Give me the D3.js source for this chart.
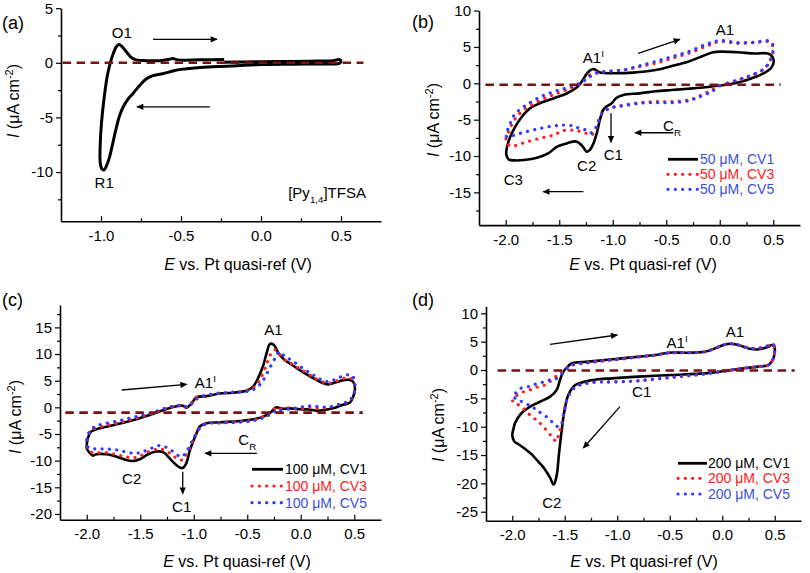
<!DOCTYPE html>
<html><head><meta charset="utf-8">
<script src="https://cdn.jsdelivr.net/npm/d3@7"></script>
<style>
body{margin:0;background:#fff}
svg{display:block}
text{font-family:"Liberation Sans",Arial,Helvetica,sans-serif;fill:#000}
</style></head>
<body><svg id="chart" width="810" height="573"></svg>
<script>
// ---------------- DATA (E in V, I in µA cm^-2) ----------------
const aCV1 = [[-0.23,0.05],[-0.1,0.08],[0.0,0.1],[0.15,0.12],[0.3,0.15],[0.45,0.2],[0.49,0.3],[0.5,0.15],[0.49,-0.05],[0.4,-0.1],[0.2,-0.12],[0.0,-0.15],[-0.18,-0.3],[-0.38,-0.42],[-0.5,-0.6],[-0.55,-0.75],[-0.615,-1.0],[-0.68,-1.2],[-0.72,-1.5],[-0.76,-2.1],[-0.8,-2.8],[-0.83,-3.3],[-0.86,-4.0],[-0.885,-4.9],[-0.91,-6.3],[-0.93,-7.6],[-0.948,-8.7],[-0.965,-9.4],[-0.98,-9.8],[-0.995,-9.7],[-1.005,-9.1],[-1.005,-7.5],[-0.997,-5.5],[-0.982,-3.4],[-0.962,-1.3],[-0.942,0.0],[-0.922,0.9],[-0.905,1.45],[-0.888,1.67],[-0.87,1.5],[-0.844,1.06],[-0.812,0.5],[-0.78,0.27],[-0.72,0.2],[-0.635,0.2],[-0.573,0.33],[-0.552,0.4],[-0.52,0.27],[-0.385,0.27],[-0.23,0.3]];

const bCV1 = [[0.0,-0.3],[-0.135,-0.55],[-0.3,-0.75],[-0.45,-0.92],[-0.6,-1.1],[-0.75,-1.38],[-0.9,-1.6],[-0.97,-2.06],[-1.01,-2.75],[-1.06,-3.2],[-1.09,-3.67],[-1.12,-5.0],[-1.15,-6.9],[-1.18,-8.26],[-1.215,-9.17],[-1.245,-9.4],[-1.28,-8.7],[-1.34,-8.0],[-1.43,-8.26],[-1.52,-8.7],[-1.6,-9.6],[-1.7,-10.2],[-1.83,-10.55],[-1.92,-10.6],[-1.97,-10.5],[-1.995,-9.8],[-1.97,-7.8],[-1.92,-6.2],[-1.86,-4.8],[-1.77,-3.4],[-1.68,-2.75],[-1.55,-2.06],[-1.43,-1.4],[-1.335,-0.55],[-1.29,0.23],[-1.245,1.28],[-1.215,1.74],[-1.18,1.97],[-1.15,1.74],[-1.12,1.5],[-1.0,1.38],[-0.81,1.47],[-0.6,1.83],[-0.44,2.4],[-0.29,3.0],[-0.185,3.6],[-0.06,4.26],[0.015,4.36],[0.17,4.27],[0.33,4.1],[0.45,4.1],[0.49,3.7],[0.505,3.0],[0.48,2.1],[0.4,1.3],[0.3,0.7],[0.17,0.1],[0.046,-0.23],[0.0,-0.3]];
const bCV3 = [[0.0,-0.3],[-0.077,-0.92],[-0.2,-1.83],[-0.29,-2.3],[-0.446,-2.5],[-0.6,-2.5],[-0.75,-2.66],[-0.9,-3.0],[-1.0,-3.3],[-1.06,-3.67],[-1.11,-4.36],[-1.14,-5.5],[-1.17,-6.65],[-1.2,-7.1],[-1.245,-6.9],[-1.34,-6.5],[-1.46,-6.5],[-1.55,-7.1],[-1.68,-7.57],[-1.83,-8.17],[-1.92,-8.6],[-1.97,-8.5],[-2.0,-8.0],[-1.98,-6.9],[-1.92,-5.05],[-1.83,-3.67],[-1.67,-2.3],[-1.52,-1.38],[-1.37,-0.55],[-1.28,0.23],[-1.215,1.15],[-1.15,1.5],[-1.06,1.65],[-0.9,1.83],[-0.75,2.3],[-0.6,2.75],[-0.446,3.44],[-0.29,4.13],[-0.135,5.05],[0.0,5.73],[0.17,5.5],[0.33,5.6],[0.45,5.73],[0.49,5.3],[0.5,4.6],[0.48,3.44],[0.42,2.06],[0.29,1.0],[0.17,0.46],[0.015,-0.23]];
const bCV5 = [[0.0,-0.35],[-0.077,-1.15],[-0.2,-1.93],[-0.29,-2.4],[-0.446,-2.66],[-0.6,-2.66],[-0.75,-2.75],[-0.9,-3.1],[-1.0,-3.3],[-1.06,-3.67],[-1.11,-4.36],[-1.14,-5.5],[-1.17,-6.4],[-1.2,-6.8],[-1.23,-6.5],[-1.31,-6.2],[-1.37,-5.87],[-1.46,-5.73],[-1.556,-5.87],[-1.71,-6.3],[-1.87,-6.9],[-1.95,-7.25],[-1.995,-7.3],[-1.985,-6.5],[-1.97,-6.0],[-1.92,-4.36],[-1.83,-3.2],[-1.67,-1.83],[-1.52,-1.0],[-1.37,-0.37],[-1.28,0.23],[-1.215,0.92],[-1.15,1.38],[-1.06,1.6],[-0.9,1.83],[-0.75,2.4],[-0.6,3.0],[-0.446,3.67],[-0.29,4.36],[-0.135,5.3],[0.0,5.87],[0.17,5.6],[0.33,5.65],[0.45,5.87],[0.49,5.5],[0.5,4.8],[0.48,3.44],[0.42,2.06],[0.29,1.1],[0.17,0.46],[0.015,-0.3]];

const cCV1 = [[-0.243,-0.06],[-0.274,-0.81],[-0.35,-1.75],[-0.445,-2.25],[-0.57,-2.56],[-0.757,-2.81],[-0.88,-3.0],[-0.944,-3.6],[-0.975,-4.9],[-1.006,-6.4],[-1.04,-8.3],[-1.07,-10.5],[-1.106,-11.4],[-1.146,-11.1],[-1.21,-9.9],[-1.287,-8.4],[-1.35,-8.3],[-1.427,-8.8],[-1.5,-9.7],[-1.567,-10.06],[-1.63,-9.9],[-1.72,-9.25],[-1.816,-8.8],[-1.91,-8.8],[-1.94,-9.06],[-1.97,-8.6],[-2.0,-7.7],[-2.0,-7.0],[-1.99,-5.8],[-1.96,-4.56],[-1.88,-3.94],[-1.72,-3.19],[-1.57,-2.4],[-1.41,-1.44],[-1.255,-0.31],[-1.16,0.19],[-1.1,0.31],[-1.07,-0.06],[-1.02,0.75],[-0.975,1.88],[-0.88,2.1],[-0.757,2.6],[-0.63,2.75],[-0.51,3.1],[-0.445,3.9],[-0.4,5.44],[-0.35,7.9],[-0.32,10.1],[-0.287,11.9],[-0.25,11.7],[-0.21,10.2],[-0.15,8.9],[-0.07,7.8],[0.02,6.6],[0.115,5.5],[0.19,4.7],[0.255,4.3],[0.33,4.7],[0.396,5.1],[0.458,5.15],[0.49,4.8],[0.507,3.56],[0.49,2.0],[0.46,0.9],[0.38,0.4],[0.3,-0.19],[0.149,-0.63],[0.08,-0.4],[-0.007,-0.37],[-0.1,-0.2],[-0.163,-0.26],[-0.225,0.0],[-0.243,-0.06]];
const cCV3 = [[-0.243,-0.3],[-0.3,-1.2],[-0.37,-1.9],[-0.45,-2.4],[-0.57,-2.7],[-0.757,-2.9],[-0.88,-3.1],[-0.944,-3.9],[-0.99,-5.6],[-1.03,-7.3],[-1.07,-9.0],[-1.11,-9.9],[-1.15,-9.7],[-1.21,-8.8],[-1.29,-7.9],[-1.35,-7.9],[-1.43,-8.4],[-1.5,-9.1],[-1.57,-9.5],[-1.63,-9.3],[-1.72,-8.9],[-1.82,-8.5],[-1.91,-8.5],[-1.96,-8.4],[-1.99,-7.8],[-2.0,-7.2],[-1.99,-5.5],[-1.96,-4.3],[-1.88,-3.7],[-1.72,-3.0],[-1.57,-2.2],[-1.41,-1.3],[-1.255,-0.2],[-1.16,0.25],[-1.1,0.3],[-1.07,0.05],[-1.02,0.9],[-0.975,1.9],[-0.88,2.2],[-0.757,2.7],[-0.63,2.85],[-0.5,3.2],[-0.43,3.9],[-0.38,5.2],[-0.32,8.0],[-0.28,10.0],[-0.24,10.8],[-0.2,10.0],[-0.15,8.9],[-0.07,8.0],[0.02,6.9],[0.115,5.7],[0.19,4.9],[0.255,4.5],[0.33,4.9],[0.396,5.4],[0.458,5.5],[0.49,5.1],[0.507,3.8],[0.49,2.2],[0.45,1.2],[0.36,0.6],[0.27,0.0],[0.18,-0.2],[0.084,0.0],[-0.01,-0.3],[-0.1,-0.1],[-0.196,-0.3],[-0.243,-0.3]];
const cCV5 = [[-0.243,-0.8],[-0.3,-1.5],[-0.37,-2.1],[-0.45,-2.5],[-0.57,-2.8],[-0.757,-2.9],[-0.88,-3.0],[-0.93,-3.6],[-0.98,-5.0],[-1.03,-6.9],[-1.07,-8.4],[-1.11,-9.25],[-1.15,-9.0],[-1.2,-8.2],[-1.27,-7.4],[-1.33,-7.2],[-1.42,-7.9],[-1.5,-8.5],[-1.57,-8.6],[-1.65,-8.3],[-1.75,-7.9],[-1.85,-7.8],[-1.93,-7.8],[-1.98,-7.6],[-2.0,-7.0],[-1.99,-5.2],[-1.95,-4.0],[-1.88,-3.3],[-1.72,-2.6],[-1.57,-1.9],[-1.41,-1.1],[-1.255,-0.1],[-1.16,0.35],[-1.1,0.35],[-1.06,0.1],[-1.0,1.0],[-0.95,1.9],[-0.88,2.3],[-0.757,2.6],[-0.63,2.8],[-0.5,3.0],[-0.42,3.6],[-0.36,4.8],[-0.3,7.0],[-0.24,9.2],[-0.2,10.4],[-0.15,9.6],[-0.07,8.6],[0.02,7.3],[0.115,6.1],[0.19,5.2],[0.255,4.8],[0.33,5.3],[0.396,5.9],[0.458,6.1],[0.49,5.7],[0.507,4.0],[0.49,2.1],[0.44,1.0],[0.36,0.5],[0.27,0.1],[0.18,0.1],[0.084,0.3],[-0.01,0.0],[-0.1,-0.3],[-0.196,-0.6],[-0.243,-0.8]];

const dCV1 = [[0.026,-0.18],[-0.164,-0.59],[-0.482,-0.88],[-0.8,-1.17],[-1.053,-1.47],[-1.18,-1.64],[-1.307,-2.05],[-1.4,-2.64],[-1.466,-4.4],[-1.504,-7.3],[-1.53,-10.8],[-1.555,-14.8],[-1.577,-18.6],[-1.605,-20.2],[-1.64,-19.0],[-1.69,-17.5],[-1.75,-16.2],[-1.82,-14.8],[-1.88,-13.9],[-1.94,-13.1],[-1.98,-12.6],[-2.0,-11.5],[-1.99,-10.5],[-1.974,-9.4],[-1.926,-7.9],[-1.83,-6.47],[-1.736,-5.6],[-1.64,-4.7],[-1.577,-3.5],[-1.545,-1.76],[-1.514,-0.3],[-1.466,0.7],[-1.434,1.17],[-1.275,1.47],[-1.117,1.76],[-0.958,2.05],[-0.8,2.34],[-0.64,2.64],[-0.514,3.05],[-0.323,3.05],[-0.164,3.22],[-0.069,3.81],[0.026,4.5],[0.074,4.63],[0.153,4.4],[0.25,3.81],[0.34,3.63],[0.44,4.1],[0.47,4.4],[0.496,4.1],[0.5,3.22],[0.48,1.76],[0.44,0.88],[0.34,0.59],[0.153,0.18],[0.026,-0.18]];
const dCV3 = [[0.026,-0.18],[-0.164,-0.7],[-0.482,-1.3],[-0.8,-1.9],[-1.053,-2.1],[-1.18,-2.1],[-1.307,-2.4],[-1.4,-3.0],[-1.466,-4.6],[-1.504,-7.0],[-1.53,-9.7],[-1.555,-11.2],[-1.58,-12.6],[-1.625,-11.7],[-1.69,-10.3],[-1.75,-9.1],[-1.815,-8.2],[-1.88,-7.0],[-1.926,-6.3],[-1.97,-5.9],[-1.995,-5.6],[-1.99,-5.0],[-1.91,-4.0],[-1.83,-3.5],[-1.752,-2.94],[-1.672,-2.53],[-1.609,-1.47],[-1.545,-0.59],[-1.5,0.1],[-1.434,0.8],[-1.275,1.3],[-1.117,1.65],[-0.958,1.95],[-0.8,2.3],[-0.64,2.6],[-0.514,3.0],[-0.323,3.05],[-0.164,3.22],[-0.069,3.81],[0.026,4.5],[0.074,4.63],[0.153,4.4],[0.25,3.9],[0.34,3.8],[0.44,4.3],[0.47,4.5],[0.496,4.2],[0.5,3.22],[0.48,1.76],[0.44,0.88],[0.34,0.59],[0.153,0.18],[0.026,-0.18]];
const dCV5 = [[0.026,-0.18],[-0.164,-0.7],[-0.482,-1.3],[-0.8,-1.9],[-1.053,-2.1],[-1.18,-2.1],[-1.307,-2.4],[-1.4,-3.0],[-1.466,-4.6],[-1.504,-7.3],[-1.53,-9.6],[-1.56,-10.0],[-1.593,-9.67],[-1.657,-8.5],[-1.75,-7.3],[-1.815,-6.45],[-1.91,-5.57],[-1.97,-5.0],[-1.995,-4.6],[-1.974,-4.23],[-1.926,-3.29],[-1.847,-2.94],[-1.783,-2.53],[-1.704,-2.12],[-1.64,-1.76],[-1.577,-1.47],[-1.514,-0.47],[-1.466,0.5],[-1.434,0.9],[-1.275,1.3],[-1.117,1.65],[-0.958,1.95],[-0.8,2.3],[-0.64,2.6],[-0.514,3.0],[-0.323,3.05],[-0.164,3.22],[-0.069,3.81],[0.026,4.5],[0.074,4.63],[0.153,4.4],[0.25,3.9],[0.34,3.8],[0.44,4.3],[0.47,4.6],[0.496,4.3],[0.5,3.22],[0.48,1.76],[0.44,0.88],[0.34,0.59],[0.153,0.18],[0.026,-0.18]];

// zero / reference dashed lines: [E start, E end, I level]
const refA = [-1.24, 0.64, 0.0];
const refB = [-2.19, 0.57, -0.2];
const refC = [-2.2, 0.58, -1.0];
const refD = [-2.14, 0.69, -0.1];

// tick labels
const xTicksA = [-1.0, -0.5, 0.0, 0.5];
const xMinorA = [-0.75, -0.25, 0.25];
const xTicksBCD = [-2.0, -1.5, -1.0, -0.5, 0.0, 0.5];
const xMinorBCD = [-1.75, -1.25, -0.75, -0.25, 0.25];
const yTicksA = [5, 0, -5, -10];
const yMinorA = [2.5, -2.5, -7.5, -12.5];
const yTicksB = [10, 5, 0, -5, -10, -15];
const yMinorB = [7.5, 2.5, -2.5, -7.5, -12.5, -17.5];
const yTicksC = [15, 10, 5, 0, -5, -10, -15, -20];
const yMinorC = [17.5, 12.5, 7.5, 2.5, -2.5, -7.5, -12.5, -17.5];
const yTicksD = [10, 5, 0, -5, -10, -15, -20, -25];
const yMinorD = [7.5, 2.5, -2.5, -7.5, -12.5, -17.5, -22.5];

// legend entries
const legendB = ["50 μM, CV1", "50 μM, CV3", "50 μM, CV5"];
const legendC = ["100 μM, CV1", "100 μM, CV3", "100 μM, CV5"];
const legendD = ["200 μM, CV1", "200 μM, CV3", "200 μM, CV5"];

// annotations: [E, I, parts]
const notesA = [[-0.87, 2.25, ["O1"]], [-0.98, -11.5, ["R1"]]];
const notesA2 = [[0.17, -12.4, ["[Py", {sub:"1,4"}, "]TFSA"]]];
const notesB = [[0.049, 6.64, ["A1"]], [-1.244, -12.05, ["C2"]], [-0.995, -10.5, ["C1"]], [-1.93, -14.0, ["C3"]]];
const notesB2 = [[-1.28, 2.8, ["A1", {sup:"I"}]], [-0.53, -6.56, ["C", {sub:"R"}]]];
const notesC = [[-0.256, 13.56, ["A1"]], [-1.58, -14.3, ["C2"]], [-1.113, -19.6, ["C1"]]];
const notesC2 = [[-0.99, 3.6, ["A1", {sup:"I"}]], [-0.583, -7.1, ["C", {sub:"R"}]]];
const notesD = [[0.121, 5.82, ["A1"]], [-0.767, -4.76, ["C1"]], [-1.624, -24.4, ["C2"]]];
const notesD2 = [[-0.53, 3.8, ["A1", {sup:"I"}]]];

// arrows: [E1, I1, E2, I2]
const arrowsA = [[-0.675, 2.15, -0.275, 2.15], [-0.32, -4.03, -0.775, -4.03]];
const arrowsB = [[-0.763, 4.13, -0.372, 6.05], [-1.016, -4.13, -1.016, -8.1], [-0.434, -6.8, -0.792, -6.8], [-1.275, -14.9, -1.65, -14.9]];
const arrowsC = [[-1.673, 3.25, -1.066, 4.3], [-0.41, -8.63, -0.895, -8.63], [-1.103, -12.1, -1.103, -16.2]];
const arrowsD = [[-1.64, 4.53, -1.0, 6.17], [-0.974, -6.47, -1.323, -13.76]];

// ---------------- STYLE / LAYOUT ----------------
const BLACK = "#000", RED = "#ff2020", BLUE = "#2f3cff", REF = "#7a1212";
const RED_T = "#ff2020", BLUE_T = "#3a4fe0";
const FONT = 15, LFONT = 14;
const DOTS = "0.1 7.2";

const panels = [
  {tag:"(a)", tagPos:[2,29], xDom:[-1.25,0.75], xR:[61,381], yDom:[-14.5,5], yR:[221.2,8.2],
   xTicks:xTicksA, xMinor:xMinorA, yTicks:yTicksA, yMinor:yMinorA,
   curves:[[aCV1,BLACK,"solid",3]], ref:refA, notes:notesA, notes2:notesA2, arrows:arrowsA,
   xTitle:[238,270], yTitle:[19,101], legend:null},
  {tag:"(b)", tagPos:[412,28], xDom:[-2.25,0.75], xR:[479,800], yDom:[-19.5,10], yR:[225.1,10.6],
   xTicks:xTicksBCD, xMinor:xMinorBCD, yTicks:yTicksB, yMinor:yMinorB,
   curves:[[bCV1,BLACK,"solid",2.6],[bCV3,RED,"dot",3.2],[bCV5,BLUE,"dot",3.2]], ref:refB, notes:notesB, notes2:notesB2, arrows:arrowsB,
   xTitle:[643,270], yTitle:[439,120],
   legend:{labels:legendB, x1:668, x2:698, tx:700, ys:[159.3,174.3,189.3], tcol:[BLUE_T,RED_T,BLUE_T]}},
  {tag:"(c)", tagPos:[2,306], xDom:[-2.25,0.75], xR:[60,381], yDom:[-21.1,19.2], yR:[519.8,305.0],
   xTicks:xTicksBCD, xMinor:xMinorBCD, yTicks:yTicksC, yMinor:yMinorC,
   curves:[[cCV1,BLACK,"solid",2.6],[cCV3,RED,"dot",3.2],[cCV5,BLUE,"dot",3.2]], ref:refC, notes:notesC, notes2:notesC2, arrows:arrowsC,
   xTitle:[237,567], yTitle:[21,417],
   legend:{labels:legendC, x1:252, x2:283, tx:285, ys:[469.3,486,502.7], tcol:[BLACK,RED_T,BLUE_T]}},
  {tag:"(d)", tagPos:[412,306], xDom:[-2.25,0.75], xR:[486,801], yDom:[-26.6,11.2], yR:[520.8,306.5],
   xTicks:xTicksBCD, xMinor:xMinorBCD, yTicks:yTicksD, yMinor:yMinorD,
   curves:[[dCV1,BLACK,"solid",2.6],[dCV3,RED,"dot",3.2],[dCV5,BLUE,"dot",3.2]], ref:refD, notes:notesD, notes2:notesD2, arrows:arrowsD,
   xTitle:[644,567], yTitle:[444,425],
   legend:{labels:legendD, x1:678, x2:707, tx:708, ys:[463.3,478.3,494], tcol:[BLACK,RED_T,BLUE_T]}}
];

// ---------------- DRAW ----------------
const svg = d3.select("#chart");
svg.append("rect").attr("width",810).attr("height",573).attr("fill","#fff");
const defs = svg.append("defs");
defs.append("marker").attr("id","ah").attr("viewBox","0 0 10 10").attr("refX",9).attr("refY",5)
  .attr("markerWidth",9).attr("markerHeight",7).attr("markerUnits","userSpaceOnUse").attr("orient","auto")
  .append("path").attr("d","M0,0.5 L10,5 L0,9.5 z").attr("fill","#000");

// rich text: strings normal, {sub}/{sup} shifted; the baseline is restored on the next string part
function rich(sel, parts, size){
  let pending = 0;
  parts.forEach(p=>{
    if (typeof p === "string"){
      const t = sel.append("tspan").text(p);
      if (pending) { t.attr("dy", pending); pending = 0; }
    } else if (p.sub){
      sel.append("tspan").attr("dy", size*0.3).attr("font-size", size*0.65).text(p.sub);
      pending = -size*0.3;
    } else if (p.sup){
      sel.append("tspan").attr("dy", -size*0.4).attr("font-size", size*0.65).text(p.sup);
      pending = size*0.4;
    }
  });
}

panels.forEach(P=>{
  const x = d3.scaleLinear().domain(P.xDom).range(P.xR);
  const y = d3.scaleLinear().domain(P.yDom).range(P.yR);
  const g = svg.append("g");
  const by = P.yR[0], lx = P.xR[0];

  // x axis
  g.append("g").attr("transform",`translate(0,${by})`)
    .call(d3.axisBottom(x).tickValues(P.xTicks).tickSizeInner(-5).tickSizeOuter(0).tickPadding(9).tickFormat(d=>d.toFixed(1)));
  g.append("g").attr("transform",`translate(0,${by})`)
    .call(d3.axisBottom(x).tickValues(P.xMinor).tickSizeInner(-3).tickSizeOuter(0).tickFormat(""))
    .call(s=>s.select(".domain").remove()).selectAll("text").remove();
  // y axis
  g.append("g").attr("transform",`translate(${lx},0)`)
    .call(d3.axisLeft(y).tickValues(P.yTicks).tickSizeInner(5).tickSizeOuter(0).tickPadding(3).tickFormat(d=>String(d)));
  g.append("g").attr("transform",`translate(${lx},0)`)
    .call(d3.axisLeft(y).tickValues(P.yMinor).tickSizeInner(3).tickSizeOuter(0).tickFormat(""))
    .call(s=>s.select(".domain").remove()).selectAll("text").remove();
  g.selectAll(".domain").attr("stroke","#000").attr("stroke-width",1.6);
  g.selectAll(".tick line").attr("stroke","#000").attr("stroke-width",1.2);
  g.selectAll(".tick text").attr("font-size",FONT).attr("font-family","'Liberation Sans',Arial,sans-serif").attr("fill","#000");

  // curves
  const line = d3.line().x(d=>x(d[0])).y(d=>y(d[1])).curve(d3.curveCatmullRom.alpha(0.5));
  P.curves.forEach(([data,col,style,w])=>{
    const p = g.append("path").attr("d", line(data)).attr("fill","none").attr("stroke",col)
      .attr("stroke-width",w).attr("stroke-linejoin","round");
    if (style==="dot") p.attr("stroke-dasharray",DOTS).attr("stroke-linecap","round");
  });

  // reference dashed line
  g.append("line").attr("x1",x(P.ref[0])).attr("x2",x(P.ref[1])).attr("y1",y(P.ref[2])).attr("y2",y(P.ref[2]))
    .attr("stroke",REF).attr("stroke-width",2.6).attr("stroke-dasharray","8.5 5.5");

  // arrows
  P.arrows.forEach(a=>{
    g.append("line").attr("x1",x(a[0])).attr("y1",y(a[1])).attr("x2",x(a[2])).attr("y2",y(a[3]))
      .attr("stroke","#000").attr("stroke-width",1.3).attr("marker-end","url(#ah)");
  });

  // annotations
  P.notes.forEach(n=>{
    const t = g.append("text").attr("x",x(n[0])).attr("y",y(n[1])).attr("text-anchor","middle").attr("font-size",FONT);
    rich(t, n[2], FONT);
  });
  P.notes2.forEach(n=>{
    const t = g.append("text").attr("x",x(n[0])).attr("y",y(n[1])).attr("text-anchor","start").attr("font-size",FONT);
    rich(t, n[2], FONT);
  });

  // legend
  if (P.legend){
    const L = P.legend;
    P.curves.forEach(([data,col,style,w],i)=>{
      const ly = L.ys[i];
      const p = g.append("line").attr("x1",L.x1).attr("x2",L.x2).attr("y1",ly).attr("y2",ly)
        .attr("stroke",col).attr("stroke-width",style==="dot"?3.2:2.8);
      if (style==="dot") p.attr("stroke-dasharray",DOTS).attr("stroke-linecap","round");
      g.append("text").attr("x",L.tx).attr("y",ly+5).attr("font-size",LFONT).style("fill",L.tcol[i]).text(L.labels[i]);
    });
  }

  // axis titles
  const xt = g.append("text").attr("x",P.xTitle[0]).attr("y",P.xTitle[1]).attr("text-anchor","middle").attr("font-size",16);
  xt.append("tspan").attr("font-style","italic").text("E");
  xt.append("tspan").text(" vs. Pt quasi-ref (V)");
  const yt = g.append("text").attr("transform",`translate(${P.yTitle[0]},${P.yTitle[1]}) rotate(-90)`)
    .attr("text-anchor","middle").attr("font-size",16);
  yt.append("tspan").attr("font-style","italic").text("I");
  yt.append("tspan").text(" (μA cm");
  yt.append("tspan").attr("dy",-6).attr("font-size",11).text("-2");
  yt.append("tspan").attr("dy",6).text(")");

  // panel tag
  svg.append("text").attr("x",P.tagPos[0]).attr("y",P.tagPos[1]).attr("font-size",18).text(P.tag);
});
</script></body></html>
